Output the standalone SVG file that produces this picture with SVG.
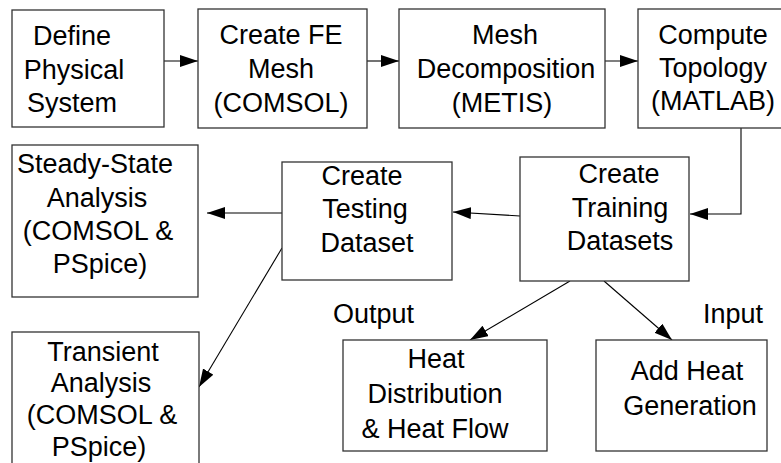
<svg xmlns="http://www.w3.org/2000/svg" width="781" height="463" viewBox="0 0 781 463">
<style>
.box{fill:#fff;stroke:#333;stroke-width:1.3}
.t{font-family:"Liberation Sans",Arial,sans-serif;font-size:27px;fill:#000;text-anchor:middle}
.l{font-family:"Liberation Sans",Arial,sans-serif;font-size:27px;fill:#000}
.c{fill:none;stroke:#000;stroke-width:1.1}
</style>
<defs>
<marker id="ah" markerUnits="userSpaceOnUse" markerWidth="19" markerHeight="13" refX="18" refY="6" orient="auto" viewBox="0 0 19 13">
<path d="M0,0 L18,6 L0,12 z" fill="#000"/>
</marker>
</defs>
<rect width="781" height="463" fill="#fff"/>
<g id="connectors">
<line class="c" x1="164" y1="61" x2="198" y2="61" marker-end="url(#ah)"/>
<line class="c" x1="367" y1="61" x2="399" y2="61" marker-end="url(#ah)"/>
<line class="c" x1="605" y1="61" x2="638" y2="61" marker-end="url(#ah)"/>
<polyline class="c" points="741,128 741,214 690,214" marker-end="url(#ah)"/>
<line class="c" x1="520" y1="216" x2="453" y2="212" marker-end="url(#ah)"/>
<line class="c" x1="282" y1="213" x2="207" y2="213" marker-end="url(#ah)"/>
<line class="c" x1="282" y1="248" x2="199" y2="387" marker-end="url(#ah)"/>
<line class="c" x1="570" y1="281" x2="470" y2="340" marker-end="url(#ah)"/>
<line class="c" x1="604" y1="281" x2="672" y2="340" marker-end="url(#ah)"/>
</g>
<g id="define">
<rect class="box" x="12" y="10" width="152" height="117"/>
<text class="t" x="72" y="45">Define</text>
<text class="t" x="74" y="79">Physical</text>
<text class="t" x="72" y="112">System</text>
</g>
<g id="fe-mesh">
<rect class="box" x="198" y="9" width="169" height="119"/>
<text class="t" x="281" y="44">Create FE</text>
<text class="t" x="281" y="78">Mesh</text>
<text class="t" x="281" y="112">(COMSOL)</text>
</g>
<g id="decomp">
<rect class="box" x="399" y="9" width="206" height="119"/>
<text class="t" x="505" y="44">Mesh</text>
<text class="t" x="506" y="78">Decomposition</text>
<text class="t" x="502" y="112">(METIS)</text>
</g>
<g id="topology">
<rect class="box" x="638" y="9" width="160" height="119"/>
<text class="t" x="713" y="44">Compute</text>
<text class="t" x="713" y="77">Topology</text>
<text class="t" x="713" y="110">(MATLAB)</text>
</g>
<g id="training">
<rect class="box" x="520" y="157" width="169" height="124"/>
<text class="t" x="619" y="183">Create</text>
<text class="t" x="620" y="217">Training</text>
<text class="t" x="620" y="250">Datasets</text>
</g>
<g id="testing">
<rect class="box" x="282" y="162" width="170" height="118"/>
<text class="t" x="362" y="185">Create</text>
<text class="t" x="365" y="218">Testing</text>
<text class="t" x="367" y="252">Dataset</text>
</g>
<g id="steady">
<rect class="box" x="12" y="145" width="186" height="152"/>
<text class="t" x="95" y="173">Steady-State</text>
<text class="t" x="97" y="207">Analysis</text>
<text class="t" x="98" y="240">(COMSOL &amp;</text>
<text class="t" x="100" y="273">PSpice)</text>
</g>
<g id="transient">
<rect class="box" x="12" y="332" width="187" height="140"/>
<text class="t" x="103" y="361">Transient</text>
<text class="t" x="101" y="392">Analysis</text>
<text class="t" x="102" y="424">(COMSOL &amp;</text>
<text class="t" x="99" y="456">PSpice)</text>
</g>
<g id="heat-dist">
<rect class="box" x="343" y="340" width="204" height="111"/>
<text class="t" x="436" y="368">Heat</text>
<text class="t" x="435" y="403">Distribution</text>
<text class="t" x="435" y="438">&amp; Heat Flow</text>
</g>
<g id="heat-gen">
<rect class="box" x="596" y="340" width="171" height="111"/>
<text class="t" x="687" y="380">Add Heat</text>
<text class="t" x="690" y="415">Generation</text>
</g>
<g id="labels">
<text class="l" x="333" y="323">Output</text>
<text class="l" x="703" y="323">Input</text>
</g>
</svg>
